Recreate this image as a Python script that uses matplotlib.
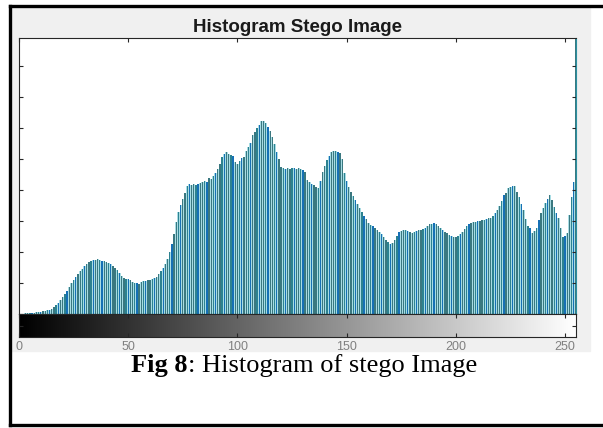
import matplotlib
matplotlib.use('Agg')
import matplotlib.pyplot as plt
import numpy as np
from matplotlib.lines import Line2D
from matplotlib.patches import Rectangle

# histogram counts for grey levels 0..255
counts = [
    0, 0, 0, 1, 1, 1,
    1, 1, 2, 2, 2, 3, 3, 4, 4, 5,
    7, 9, 11, 14, 17, 20, 23, 27,
    31, 34, 37, 40, 43, 45, 48, 50,
    52, 53, 54, 54, 55, 54, 53, 53,
    52, 51, 50, 48, 46, 44, 41, 38,
    36, 35, 35, 34, 32, 31, 31, 30,
    32, 33, 33, 34, 34, 35, 36, 37,
    40, 43, 46, 50, 55, 62, 70, 80,
    92, 102, 109, 115, 121, 128, 130, 129,
    130, 129, 130, 131, 132, 133, 132, 136,
    135, 138, 141, 145, 150, 157, 160, 162,
    160, 159, 158, 152, 150, 153, 156, 157,
    163, 167, 171, 179, 182, 186, 189, 193,
    193, 191, 187, 183, 177, 170, 162, 155,
    147, 146, 145, 146, 145, 146, 146, 145,
    146, 145, 144, 142, 134, 132, 130, 129,
    127, 126, 133, 142, 148, 154, 158, 162,
    163, 163, 162, 161, 155, 141, 133, 127,
    122, 118, 114, 110, 106, 102, 98, 95,
    91, 89, 88, 86, 84, 82, 80, 77,
    74, 72, 70, 71, 74, 78, 82, 83,
    84, 84, 83, 82, 81, 82, 83, 84,
    84, 85, 86, 88, 90, 90, 91, 90,
    88, 86, 84, 82, 81, 79, 78, 77,
    77, 78, 80, 82, 85, 88, 90, 91,
    92, 92, 93, 93, 94, 94, 95, 96,
    96, 98, 101, 104, 108, 113, 119, 121,
    126, 127, 128, 128, 122, 117, 110, 104,
    95, 88, 86, 81, 83, 86, 94, 101,
    106, 111, 115, 119, 114, 107, 101, 96,
    86, 77, 78, 81, 99, 117, 132, 400,
]
levels = np.arange(256)
x_ticks = [0, 50, 100, 150, 200, 250]
y_max = 276
y_step = 31

W, H = 603, 428
fig = plt.figure(figsize=(W / 100, H / 100), dpi=100)
fig.patch.set_facecolor('white')


def fx(px):
    return px / W


def fy(py):
    return 1 - py / H


# matlab figure window background
fig.add_artist(Rectangle((fx(11), fy(351)), fx(590) - fx(11), fy(7) - fy(351),
                         transform=fig.transFigure, color='#f0f0f0', zorder=0))

# black page frame (left, top, bottom)
for xs, ys in [([9.5, 9.5], [6, 424.5]), ([9.5, 603], [6, 6]),
               ([9.5, 603], [424.5, 424.5])]:
    fig.add_artist(Line2D([fx(v) for v in xs], [fy(v) for v in ys],
                          transform=fig.transFigure, color='black', lw=2.4))

# histogram axes
ax = fig.add_axes([fx(19), fy(314), fx(576) - fx(19), fy(38) - fy(314)])
ax.bar(levels, counts, width=1.0, color='#a8dce4', linewidth=0)
stem_colors = ['#3a7880', '#2d8290', '#1670b5', '#3a7880']
ax.bar(levels, counts, width=0.6, linewidth=0,
       color=[stem_colors[i % 4] for i in levels])
ax.set_xlim(0, 255)
ax.set_ylim(0, y_max)
ax.set_xticks(x_ticks)
ax.set_yticks(np.arange(0, y_max, y_step))
ax.tick_params(direction='in', length=3, width=0.8, colors='#262626',
               labelbottom=False, labelleft=False, top=True, right=True,
               bottom=False)
for s in ax.spines.values():
    s.set_color('#262626')
    s.set_linewidth(0.8)
ax.spines['right'].set_color('#2a8fa0')
ax.set_title('Histogram Stego Image', fontsize=13.5, fontweight='bold',
             family='Liberation Sans', color='#1a1a1a', pad=4)

# grey-level colour bar
cax = fig.add_axes([fx(19), fy(337), fx(576) - fx(19), fy(314) - fy(337)])
cax.imshow(levels[np.newaxis, :], cmap='gray', aspect='auto',
           extent=[0, 255, 0, 1], vmin=0, vmax=255)
cax.set_xlim(0, 255)
cax.set_ylim(0, 1)
cax.set_xticks(x_ticks)
cax.set_yticks([0.5])
cax.tick_params(direction='in', length=3, width=0.8, colors='#262626',
                top=True, right=True, labelleft=False, labelsize=9, pad=3)
for lab in cax.get_xticklabels():
    lab.set_color('#808080')
    lab.set_family('Liberation Sans')
for s in cax.spines.values():
    s.set_color('#262626')
    s.set_linewidth(0.8)

# caption: bold "Fig 8" then regular text
cap_y = fy(372)
t1 = fig.text(0, cap_y, 'Fig 8', fontsize=19, fontweight='bold',
              family='Liberation Serif', va='baseline')
t2 = fig.text(0, cap_y, ': Histogram of stego Image', fontsize=19,
              family='Liberation Serif', va='baseline')
fig.canvas.draw()
r = fig.canvas.get_renderer()
w1 = t1.get_window_extent(r).width
w2 = t2.get_window_extent(r).width
x0 = fx(304) - (w1 + w2) / 2 / W
t1.set_x(x0)
t2.set_x(x0 + w1 / W)

fig.savefig('out.png', dpi=100)
